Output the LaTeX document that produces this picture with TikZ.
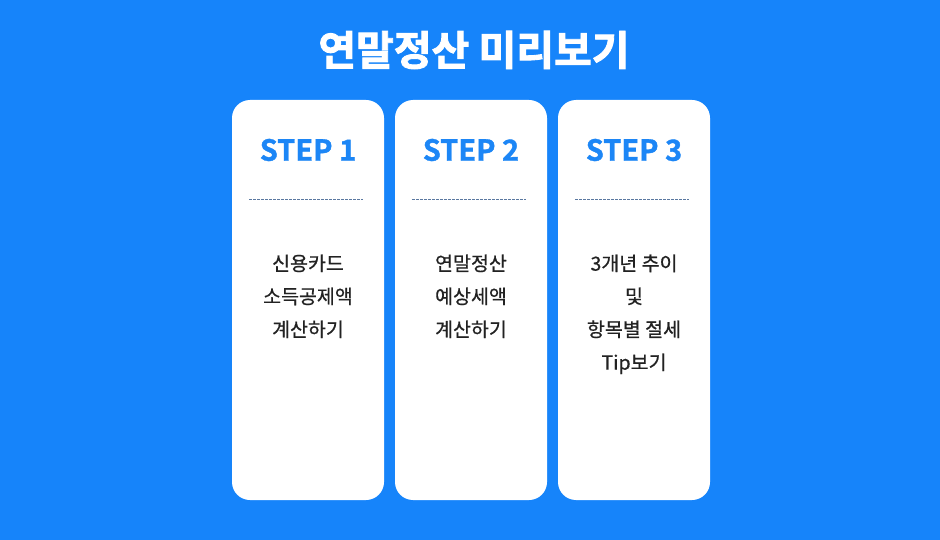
\documentclass[tikz,border=0pt]{standalone}
\usepackage{fontspec}
\newfontfamily\kr[FakeBold=0.6]{Noto Sans CJK KR}
\newfontfamily\krb{Noto Sans CJK KR Bold}
\newfontfamily\krbb[FakeBold=2.2]{Noto Sans CJK KR Bold}
\newfontfamily\krbs[FakeBold=1.2]{Noto Sans CJK KR Bold}
\definecolor{bg}{RGB}{22,132,250}
\definecolor{stepblue}{RGB}{28,134,246}
\definecolor{dashc}{RGB}{90,120,160}
\definecolor{txt}{RGB}{34,34,34}
\begin{document}
\begin{tikzpicture}[x=1pt,y=-1pt,
  card/.style={fill=white,rounded corners=18pt},
  steplabel/.style={text=stepblue,font=\krbs\fontsize{29}{30}\selectfont,anchor=center},
  body/.style={text=txt,font=\kr\fontsize{19.5}{33}\selectfont,align=center,anchor=north},
  sep/.style={draw=dashc,dash pattern=on 2.5pt off 1.5pt,line width=0.8pt}]
\fill[bg] (0,0) rectangle (940,540);
\useasboundingbox (0,0) rectangle (940,540);
\node[text=white,font=\krbb\fontsize{41}{42}\selectfont] (title) at (474,50) {연말정산 미리보기};
\foreach \i/\x in {1/232,2/395,3/558}{
  \fill[card] (\x,100) rectangle ++(152,400);
  \node[steplabel] (s\i) at (\x+76,150) {STEP \i};
  \coordinate (a\i) at (\x+17,199);
  \coordinate (b\i) at (\x+131,199);
  \draw[sep] (a\i) -- (b\i);
}
\node[body] (t1) at (308,251) {신용카드\\소득공제액\\계산하기};
\node[body] (t2) at (471,251) {연말정산\\예상세액\\계산하기};
\node[body] (t3) at (634,251) {3개년 추이\\및\\항목별 절세\\Tip보기};
\end{tikzpicture}
\end{document}
